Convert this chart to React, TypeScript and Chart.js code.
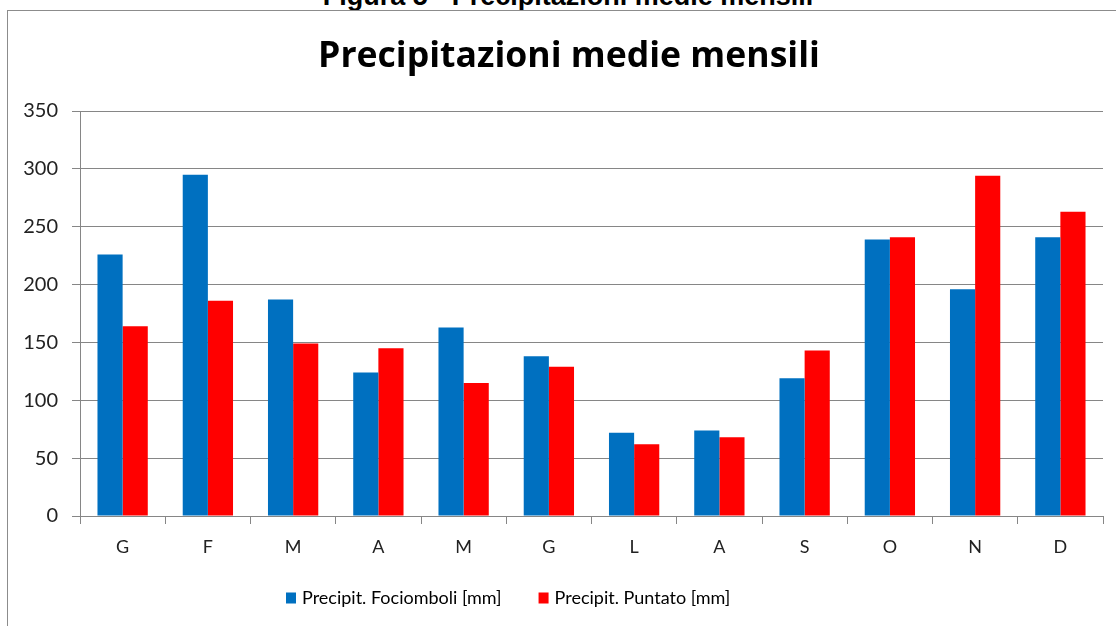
import React, { useEffect, useRef } from "react";
import { Chart, registerables } from "chart.js";

Chart.register(...registerables);

const CAPTION = "Figura 5 - Precipitazioni medie mensili";
const TITLE = "Precipitazioni medie mensili";
const months = ["G", "F", "M", "A", "M", "G", "L", "A", "S", "O", "N", "D"];
const seriesNames = ["Precipit. Fociomboli [mm]", "Precipit. Puntato [mm]"];
const fociomboli = [226, 295, 187, 124, 163, 138, 72, 74, 119, 239, 196, 241];
const puntato = [164, 186, 149, 145, 115, 129, 62, 68, 143, 241, 294, 263];
const yMin = 0;
const yMax = 350;
const yStep = 50;

const BLUE = "#0070C0";
const RED = "#FF0000";
const GRID = "#868686";
const FONT = "Lato, 'Open Sans', sans-serif";
const TITLE_FONT = "'Open Sans', Lato, sans-serif";

const customLegend = {
  id: "customLegend",
  afterDraw(chart: any) {
    const ctx = chart.ctx;
    const y = 587;
    let x = 278;
    ctx.save();
    ctx.font = `18px ${FONT}`;
    ctx.textBaseline = "middle";
    ctx.textAlign = "left";
    chart.data.datasets.forEach((ds: any) => {
      ctx.fillStyle = ds.backgroundColor;
      ctx.fillRect(x, y - 5.5, 10, 11);
      x += 16;
      ctx.fillStyle = "#000";
      ctx.fillText(ds.label, x, y);
      x += ctx.measureText(ds.label).width + 37;
    });
    ctx.restore();
  },
};

const titleShift = {
  id: "titleShift",
  afterLayout(chart: any) {
    if (chart.titleBlock) {
      chart.titleBlock.left = 27;
    }
  },
};

export default function App() {
  const canvasRef = useRef<HTMLCanvasElement | null>(null);

  useEffect(() => {
    if (!canvasRef.current) return;
    const chart = new Chart(canvasRef.current, {
      type: "bar",
      data: {
        labels: months,
        datasets: [
          { label: seriesNames[0], data: fociomboli, backgroundColor: BLUE, borderWidth: 0 },
          { label: seriesNames[1], data: puntato, backgroundColor: RED, borderWidth: 0 },
        ],
      },
      options: {
        responsive: false,
        animation: false,
        layout: { padding: { left: 0, right: 13, top: 0, bottom: 47 } },
        datasets: { bar: { categoryPercentage: 0.59, barPercentage: 1 } },
        plugins: {
          legend: { display: false },
          tooltip: { enabled: false },
          title: {
            display: true,
            text: TITLE,
            color: "#000",
            font: { family: TITLE_FONT, size: 35.6, weight: "bold" },
            padding: { top: 24.6, bottom: 32.7 },
          },
        },
        scales: {
          x: {
            afterFit: (s: any) => {
              s.height = 63;
            },
            grid: {
              offset: true,
              drawOnChartArea: false,
              drawTicks: true,
              tickLength: 8,
              color: GRID,
            },
            border: { color: GRID },
            ticks: {
              color: "#222",
              font: { family: FONT, size: 18 },
              padding: 12,
            },
          },
          y: {
            min: yMin,
            max: yMax,
            afterFit: (s: any) => {
              s.width = 72;
            },
            grid: { color: GRID, tickLength: 8, drawTicks: true },
            border: { color: GRID },
            ticks: {
              stepSize: yStep,
              color: "#222",
              font: { family: FONT, size: 20 },
              padding: 14,
            },
          },
        },
      },
      plugins: [customLegend, titleShift],
    });
    return () => chart.destroy();
  }, []);

  return (
    <div
      style={{
        position: "fixed",
        left: 0,
        top: 0,
        width: 1116,
        height: 626,
        background: "#fff",
        overflow: "hidden",
      }}
    >
      <div
        style={{
          position: "absolute",
          left: 0,
          width: 1136,
          textAlign: "center",
          top: -17,
          font: "bold 27px 'Liberation Sans', Arial, sans-serif",
          lineHeight: "27px",
          whiteSpace: "nowrap",
          color: "#000",
        }}
      >
        {CAPTION}
      </div>
      <div
        style={{
          position: "absolute",
          left: 7,
          top: 10,
          width: 1200,
          height: 700,
          border: "1px solid #8c8c8c",
          background: "#fff",
        }}
      />
      <canvas
        ref={canvasRef}
        width={1108}
        height={615}
        style={{ position: "absolute", left: 8, top: 11, width: 1108, height: 615 }}
      />
    </div>
  );
}
